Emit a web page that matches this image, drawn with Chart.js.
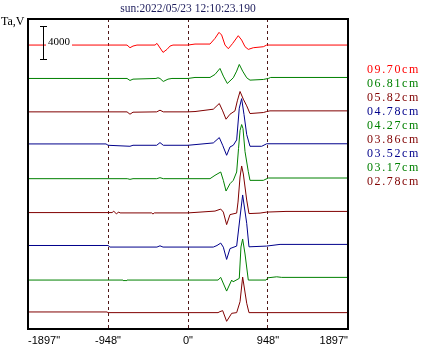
<!DOCTYPE html>
<html>
<head>
<meta charset="utf-8">
<script src="https://cdn.jsdelivr.net/npm/chart.js@4.4.0/dist/chart.umd.min.js"></script>
<style>
  html, body { margin: 0; padding: 0; background: #fff; }
  canvas { display: block; }
</style>
</head>
<body>
<canvas id="traces" width="426" height="347"></canvas>
<script>
const TITLE = 'sun:2022/05/23 12:10:23.190';
const Y_NAME = 'Ta,V';
const LABELS = ['09.70cm', '06.81cm', '05.82cm', '04.78cm', '04.27cm', '03.86cm', '03.52cm', '03.17cm', '02.78cm'];
const COLORS = ['#ff0000', '#008000', '#800000', '#00008b', '#008000', '#800000', '#00008b', '#008000', '#800000'];
const TICKS = [-1897, -948, 0, 948, 1897];
const TRACE_STEP = 4000;
const SCALE_BAR = 4000;

// time (") and amplitude per trace, top trace first
const T1 = [-1897, -723, -688, -652, -605, -391, -368, -296, -249, -213, -178, 0, 83, 261, 320, 368, 399, 439, 478, 530, 596, 636, 676, 715, 774, 893, 933, 1897];
const V1 = [0, 0, -320, -120, 0, 0, 200, -880, -520, -120, 0, 0, 120, 120, 800, 1520, 1200, 0, -440, 200, 1120, 600, -200, -520, -320, -200, 0, 0];
const T2 = [-1897, -723, -688, -652, -380, -356, -332, -293, -237, -190, 0, 83, 261, 320, 379, 419, 466, 537, 577, 608, 648, 696, 735, 893, 952, 980, 1897];
const V2 = [0, 0, -240, -80, 0, 80, 0, -360, -80, 0, 0, 120, 120, 480, 1200, 280, -600, 80, 880, 1680, 880, 80, -200, -120, 0, 120, 120];
const T3 = [-1897, -723, -688, -652, -371, -332, -293, 0, 83, 300, 371, 411, 451, 498, 557, 585, 617, 656, 696, 735, 893, 933, 972, 1897];
const V3 = [0, 0, -280, -40, 0, 200, 0, 0, 40, 320, 1000, 120, -880, -280, 120, 1320, 2440, 1520, 720, -200, -80, 40, 120, 120];
const T4 = [-1897, -972, -948, -688, -652, -371, -332, -293, 0, 300, 371, 411, 458, 498, 537, 577, 608, 636, 664, 696, 735, 874, 933, 1897];
const V4 = [160, 160, 0, -120, 0, 0, 320, 0, 0, 280, 920, 0, -1200, -200, 0, 640, 4440, 5580, 3680, 1280, -120, -120, 180, 180];
const T5 = [-1897, -720, -688, -652, -371, -332, -293, 0, 261, 320, 388, 419, 451, 498, 537, 577, 599, 617, 636, 652, 676, 715, 735, 893, 952, 1897];
const V5 = [0, 0, -80, 0, 0, 120, 0, 0, 0, 400, 800, -200, -1480, -600, -200, 800, 3600, 5760, 6480, 6000, 3240, 840, -200, -200, 80, 80];
const T6 = [-1897, -900, -880, -850, -820, -806, -430, -415, -400, 0, 320, 388, 419, 458, 498, 577, 593, 617, 636, 656, 696, 723, 854, 933, 1162, 1897];
const V6 = [-60, -60, 100, -200, 0, -100, -100, -240, -100, -100, 120, 360, 0, -1500, -300, -120, 1200, 4200, 5520, 4560, 1440, -180, -120, 0, 80, 80];
const T7 = [-1897, -948, -925, -368, -332, -296, 300, 344, 388, 419, 458, 498, 577, 617, 648, 696, 723, 933, 1091, 1897];
const V7 = [0, 0, -190, -190, -40, -190, -190, 0, 290, -200, -1670, -370, -70, 3410, 6050, 2650, -160, -70, 130, 130];
const T8 = [-1897, -771, -759, -747, -735, -723, -700, 356, 388, 458, 518, 534, 608, 628, 648, 676, 715, 925, 948, 1052, 1111, 1897];
const V8 = [-140, -140, -260, -140, -260, -140, -140, -140, 180, -1460, -140, -350, 60, 3820, 4780, 2980, -140, -140, 130, 250, 180, 180];
const T9 = [-1897, -960, -948, 356, 379, 411, 458, 518, 577, 617, 648, 696, 723, 1897];
const V9 = [40, 40, -40, -40, 80, 200, -1080, -120, -40, 1270, 4220, 1080, -40, -40];

const TIMES = [T1, T2, T3, T4, T5, T6, T7, T8, T9];
const VALUES = [V1, V2, V3, V4, V5, V6, V7, V8, V9];

const datasets = LABELS.map((label, i) => {
  const base = (LABELS.length - 1 - i) * TRACE_STEP;
  return {
    label,
    data: TIMES[i].map((t, k) => ({ x: t, y: VALUES[i][k] + base })),
    borderColor: COLORS[i],
    borderWidth: 1,
    showLine: true,
    pointRadius: 0,
    tension: 0,
    order: LABELS.length - i
  };
});

const overlay = {
  id: 'overlay',
  afterDraw(chart) {
    const { ctx, chartArea: a, scales: { y } } = chart;
    ctx.save();

    // frame
    ctx.strokeStyle = '#000';
    ctx.lineWidth = 2;
    ctx.strokeRect(a.left, a.top, a.right - a.left, a.bottom - a.top);

    // title
    ctx.fillStyle = '#1c1c5c';
    ctx.font = '11.5px "Liberation Serif"';
    ctx.textAlign = 'center';
    ctx.textBaseline = 'alphabetic';
    ctx.fillText(TITLE, (a.left + a.right) / 2, 12);

    // y name
    ctx.fillStyle = '#000';
    ctx.font = '12px "Liberation Serif"';
    ctx.textAlign = 'left';
    ctx.fillText(Y_NAME, 1, 25);

    // scale bar
    const top = (LABELS.length - 1) * TRACE_STEP + 2300;
    const y0 = Math.round(y.getPixelForValue(top - SCALE_BAR)) + 0.5;
    const y1 = Math.round(y.getPixelForValue(top)) + 0.5;
    ctx.fillStyle = '#fff';
    ctx.fillRect(46, 35, 26, 11);
    ctx.lineWidth = 1;
    ctx.beginPath();
    ctx.moveTo(43.5, y0); ctx.lineTo(43.5, y1);
    ctx.moveTo(40, y0); ctx.lineTo(47, y0);
    ctx.moveTo(40, y1); ctx.lineTo(47, y1);
    ctx.stroke();
    ctx.fillStyle = '#000';
    ctx.font = '11px "Liberation Serif"';
    ctx.fillText(String(SCALE_BAR), 48, 44.5);

    // depth labels
    ctx.font = '12px "Liberation Serif"';
    ctx.letterSpacing = '1.6px';
    LABELS.forEach((label, i) => {
      ctx.fillStyle = COLORS[i];
      ctx.fillText(label, 367, 72.5 + i * 14);
    });
    ctx.restore();
  }
};

new Chart(document.getElementById('traces'), {
  type: 'scatter',
  data: { datasets },
  options: {
    responsive: false,
    animation: false,
    layout: { padding: { left: 28, right: 78, top: 19, bottom: 0 } },
    plugins: { legend: { display: false }, tooltip: { enabled: false } },
    scales: {
      x: {
        type: 'linear',
        min: TICKS[0],
        max: TICKS[TICKS.length - 1],
        afterBuildTicks: (scale) => { scale.ticks = TICKS.map((v) => ({ value: v })); },
        afterFit: (scale) => { scale.height = 18; },
        grid: { color: '#501818', lineWidth: 1, drawTicks: false },
        border: { display: false, dash: [3, 3] },
        ticks: {
          align: 'inner',
          padding: 5,
          maxRotation: 0,
          autoSkip: false,
          color: '#000',
          font: { family: 'Liberation Sans', size: 11 },
          callback: (v) => v + '"'
        }
      },
      y: {
        display: false,
        min: -2000,
        max: 35120
      }
    }
  },
  plugins: [overlay]
});
</script>
</body>
</html>
